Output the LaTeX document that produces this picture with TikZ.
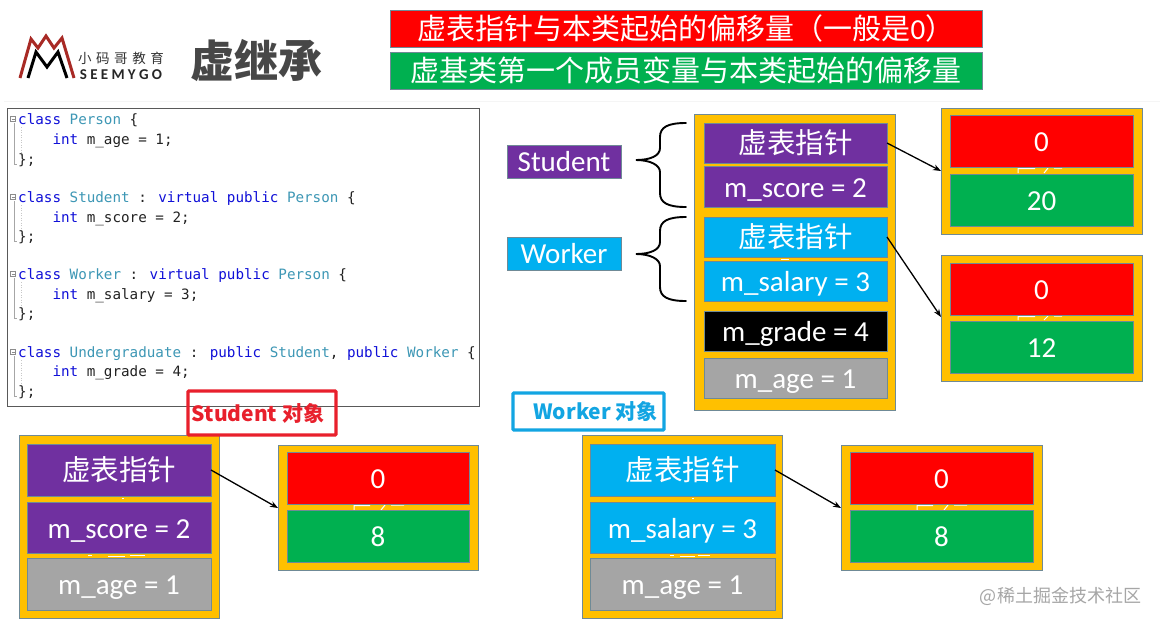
\documentclass[tikz,border=0pt]{standalone}
\usepackage{fontspec}
\setmainfont{Carlito}
\newfontfamily\cjk{Noto Sans CJK SC}
\newfontfamily\codefont{DejaVu Sans Mono}[Scale=1]
\definecolor{ybg}{HTML}{FFC000}
\definecolor{edge}{HTML}{6F8A96}
\definecolor{vptr}{HTML}{7030A0}
\definecolor{wblue}{HTML}{00B0F0}
\definecolor{gray1}{HTML}{A5A5A5}
\definecolor{redf}{HTML}{FF0000}
\definecolor{greenf}{HTML}{00B050}
\definecolor{kw}{HTML}{1010D8}
\definecolor{ty}{HTML}{3D97B5}
\definecolor{tx}{HTML}{222222}
\definecolor{logored}{HTML}{A82A25}
\definecolor{tagred}{HTML}{E8202C}
\definecolor{tagblue}{HTML}{12A5E2}
\tikzset{
  box/.style={draw=edge,line width=0.8pt,inner sep=0pt,outer sep=0pt,text=white,align=center},
  yellowbox/.style={box,fill=ybg},
  purple/.style={box,fill=vptr},
  blue/.style={box,fill=wblue},
  grayf/.style={box,fill=gray1},
  blackf/.style={box,fill=black},
  redbox/.style={box,fill=redf},
  greenbox/.style={box,fill=greenf},
  sidelabel/.style={font=\fontsize{29}{30}\selectfont},
  latin/.style={font=\fontsize{29}{30}\selectfont,text height=21pt,text depth=0pt},
  cn/.style={font=\cjk\fontsize{28.5}{30}\selectfont},
  header/.style={font=\cjk\fontsize{29}{30}\selectfont,text height=21pt,text depth=0pt},
  codeline/.style={anchor=base west,inner sep=0pt,font=\codefont\fontsize{14.25}{16}\selectfont,text=tx},
  tag/.style={draw,line width=3.4pt,fill=none,inner sep=0pt,rounded corners=1pt,font=\cjk\bfseries\fontsize{21}{22}\selectfont},
  ptr/.style={-{Stealth[length=8pt,width=6pt]},line width=1.3pt,black},
  brace/.style={line width=1.9pt,black,line cap=round},
  fold/.style={draw=black!45,line width=0.5pt,fill=white,minimum size=5pt,inner sep=0pt},
  foldline/.style={black!35,line width=0.6pt},
  foldguide/.style={black!22,line width=0.5pt,dotted},
  fragment/.style={white,line width=1pt},
}
\usetikzlibrary{arrows.meta}
% \bx{name}{x1}{y1}{x2}{y2}{style}{text}
\newcommand{\bx}[7]{%
  \pgfmathsetmacro{\cxa}{(#2+#4)/2}\pgfmathsetmacro{\cya}{(#3+#5)/2}%
  \pgfmathsetmacro{\wa}{#4-#2}\pgfmathsetmacro{\ha}{#5-#3}%
  \node[#6,minimum width=\wa pt,minimum height=\ha pt] (#1) at (\cxa,\cya) {#7};}
\newcommand{\cl}[2]{\node[codeline] (cl#1) at (18,#1) {\strut #2};}
\newcommand{\kw}[1]{\textcolor{kw}{#1}}
\newcommand{\ty}[1]{\textcolor{ty}{#1}}
\newcommand{\foldmark}[2]{%
  \node[fold] (fm#1) at (13,#1) {};
  \draw[black!45,line width=0.5pt] (11.5,#1) -- (14.5,#1);
  \draw[foldline] (14,#1+4) -- (14,#2) -- (17,#2);
  \draw[foldguide] (21,#1+8) -- (21,#2-8);}
\newcommand{\lgap}{\hspace{4.6pt}}
\newcommand{\egap}{\hspace{3.3pt}}
\begin{document}
\begin{tikzpicture}[x=1pt,y=-1pt]
\useasboundingbox (0,0) rectangle (1160,625);
\fill[white] (0,0) rectangle (1160,625);
\draw[black!4,line width=1.5pt] (4,101.5) -- (1160,101.5);

% logo
\draw[logored,line width=3pt,line join=miter] (20,78) -- (31,39) -- (38,48) -- (46,36) -- (54,48) -- (62,38) -- (74,78);
\draw[black,line width=3pt,line join=miter] (28,78) -- (36,52) -- (47,67) -- (58,52) -- (67,78);
\node[inner sep=0pt,font=\cjk\fontsize{13.5}{14}\selectfont,text=black!80] (logocn) at (121,58) {小\lgap 码\lgap 哥\lgap 教\lgap 育};
\node[inner sep=0pt,font=\fontsize{15}{16}\bfseries\selectfont,text=black!85] (logoen) at (121,74.5) {S\egap E\egap E\egap M\egap Y\egap G\egap O};

% title
\node[inner sep=0pt,font=\cjk\bfseries\fontsize{44}{46}\selectfont,text=black!72] (title) at (256.5,61) {虚继承};

% legend
\bx{lred}{390}{10}{982}{47}{redbox,header}{虚表指针与本类起始的偏移量（一般是{\fontfamily{\rmdefault}\selectfont 0}）}
\bx{lgreen}{390}{52}{982}{89}{greenbox,header}{虚基类第一个成员变量与本类起始的偏移量}

% code
\draw[black!65,line width=1pt,fill=white] (7,108.5) rectangle (479,406) ;
\foldmark{119}{164}
\foldmark{197}{241}
\foldmark{274}{318}
\foldmark{352}{396}
\cl{124}{\kw{class} \ty{Person} \{}
\cl{144}{\ \ \ \ \kw{int} m\_age = 1;}
\cl{164}{\};}
\cl{202}{\kw{class} \ty{Student} : \kw{virtual} \kw{public} \ty{Person} \{}
\cl{222}{\ \ \ \ \kw{int} m\_score = 2;}
\cl{241}{\};}
\cl{279}{\kw{class} \ty{Worker} : \kw{virtual} \kw{public} \ty{Person} \{}
\cl{299}{\ \ \ \ \kw{int} m\_salary = 3;}
\cl{318}{\};}
\cl{357}{\kw{class} \ty{Undergraduate} : \kw{public} \ty{Student}, \kw{public} \ty{Worker} \{}
\cl{376}{\ \ \ \ \kw{int} m\_grade = 4;}
\cl{396}{\};}

% main object
\bx{mobj}{694}{114}{895}{410}{yellowbox}{}
\bx{m1}{704}{123}{887}{163}{purple,cn}{虚表指针}
\bx{m2}{704}{166}{887}{207}{purple,latin}{m\_score = 2}
\bx{m3}{704}{217}{887}{257}{blue,cn}{虚表指针}
\bx{m4}{704}{261}{887}{301}{blue,latin}{m\_salary = 3}
\bx{m5}{704}{311}{887}{351}{blackf,latin}{m\_grade = 4}
\bx{m6}{704}{358}{887}{398}{grayf,latin}{m\_age = 1}
\draw[fragment] (781,259) -- (789,259);

% tables right
\bx{t1}{941}{108}{1142}{234}{yellowbox}{}
\draw[fragment] (1018,168) -- (1018,173) (1018,168.5) -- (1035,168.5) (1048,168) -- (1044,173) (1054,168) -- (1062,168);
\bx{t1a}{950}{115}{1133}{167}{redbox,latin}{0}
\bx{t1b}{950}{174}{1133}{226}{greenbox,latin}{20}
\bx{t2}{941}{255}{1142}{381}{yellowbox}{}
\draw[fragment] (1018,316) -- (1018,320) (1018,316.5) -- (1035,316.5) (1048,316) -- (1044,320) (1054,316) -- (1062,316);
\bx{t2a}{950}{263}{1133}{315}{redbox,latin}{0}
\bx{t2b}{950}{321}{1133}{373}{greenbox,latin}{12}

\coordinate (p1) at (941,171);
\coordinate (p2) at (941,317);
\draw[ptr] (887,143) -- (p1);
\draw[ptr] (887,237) -- (p2);

% side labels
\bx{lst}{507}{145}{621}{178}{purple,sidelabel}{Student}
\bx{lwk}{507}{237}{621}{270}{blue,sidelabel}{Worker}
\draw[brace] (686,123) .. controls (668,123) and (660,127) .. (660,137) -- (660,148) .. controls (660,156) and (650,160) .. (636,160)
  .. controls (650,160) and (660,165) .. (660,172) -- (660,193) .. controls (660,203) and (668,207) .. (686,207);
\draw[brace] (686,217) .. controls (668,217) and (660,221) .. (660,231) -- (660,242) .. controls (660,250) and (650,254) .. (636,254)
  .. controls (650,254) and (660,259) .. (660,266) -- (660,287) .. controls (660,297) and (668,301) .. (686,301);

% student object
\bx{sobj}{19}{435}{219}{618}{yellowbox}{}
\draw[fragment] (122,498) -- (124,498) (88,555) -- (92,555) (108,556) -- (125,556) (130,555) -- (145,555);
\bx{s1}{27}{444}{211}{496}{purple,cn}{虚表指针}
\bx{s2}{27}{502}{211}{553}{purple,latin}{m\_score = 2}
\bx{s3}{27}{558}{211}{610}{grayf,latin}{m\_age = 1}
\bx{st}{278}{445}{478}{570}{yellowbox}{}
\draw[fragment] (354,505) -- (354,510) (354,505.5) -- (370,505.5) (385,505) -- (381,510) (391,505) -- (404,505);
\bx{sta}{287}{452}{469}{504}{redbox,latin}{0}
\bx{stb}{287}{510}{469}{562}{greenbox,latin}{8}
\coordinate (p3) at (278,508);
\draw[ptr] (211,470) -- (p3);
\bx{stag}{188}{391}{336}{435}{tag,draw=tagred,text=tagred}{\hspace*{-8pt}Student 对象}

% worker object
\bx{wobj}{582}{435}{782}{618}{yellowbox}{}
\draw[fragment] (692,498) -- (694,498) (670,555) -- (674,555) (680,556) -- (695,556) (698,555) -- (710,555);
\bx{w1}{590}{444}{775}{496}{blue,cn}{虚表指针}
\bx{w2}{590}{502}{775}{553}{blue,latin}{m\_salary = 3}
\bx{w3}{590}{558}{775}{610}{grayf,latin}{m\_age = 1}
\bx{wt}{841}{445}{1042}{570}{yellowbox}{}
\draw[fragment] (917,505) -- (917,510) (917,505.5) -- (933,505.5) (948,505) -- (944,510) (954,505) -- (967,505);
\bx{wta}{850}{452}{1033}{504}{redbox,latin}{0}
\bx{wtb}{850}{510}{1033}{562}{greenbox,latin}{8}
\coordinate (p4) at (841,508);
\draw[ptr] (775,470) -- (p4);
\bx{wtag}{513}{393}{664}{430}{tag,draw=tagblue,text=tagblue}{\hspace*{14pt}Worker 对象}

% watermark
\node[inner sep=0pt,font=\cjk\fontsize{18}{19}\selectfont,text=black!35] (wm) at (1060.5,596) {@稀土掘金技术社区};
\end{tikzpicture}
\end{document}
